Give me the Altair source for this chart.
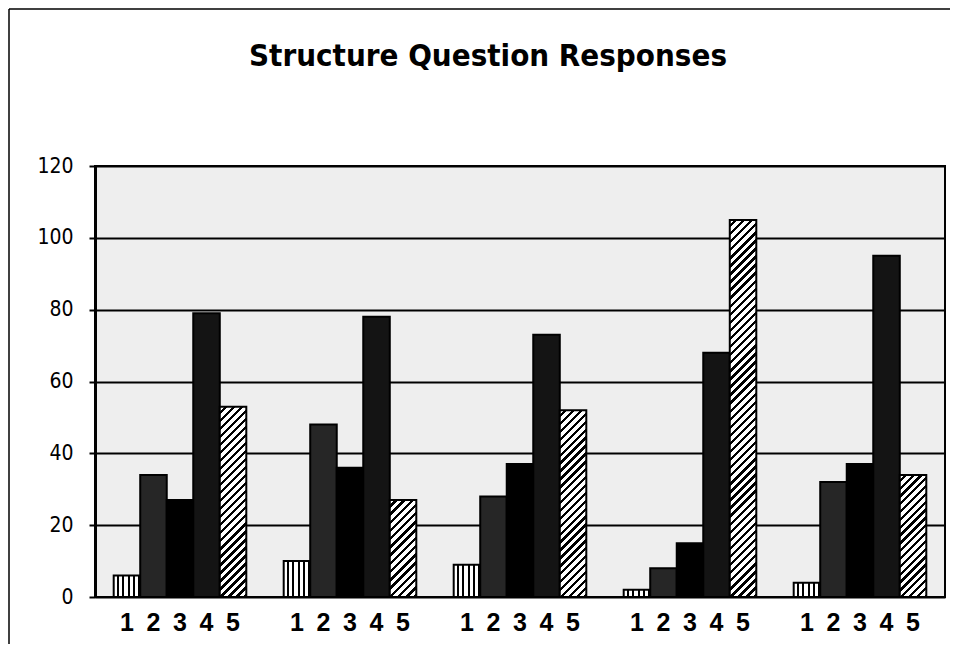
import altair as alt

# ---- data ----
title_text = "Structure Question Responses"
groups = ["Q1", "Q2", "Q3", "Q4", "Q5"]
responses = ["1", "2", "3", "4", "5"]
values = [
    [6, 34, 27, 79, 53],
    [10, 48, 36, 78, 27],
    [9, 28, 37, 73, 52],
    [2, 8, 15, 68, 105],
    [4, 32, 37, 95, 34],
]
y_ticks = [0, 20, 40, 60, 80, 100, 120]

# ---- layout / style ----
W, H, YMAX = 850, 431, 120
PAD_INNER, PAD_OUTER = 0.22, 0.11
step = W / (len(groups) - PAD_INNER + 2 * PAD_OUTER)
bar_w = step * (1 - PAD_INNER) / len(responses)
NARROW = "'Liberation Sans Narrow', 'Arial Narrow', 'DejaVu Sans Condensed', sans-serif"
SANS = "'Liberation Sans', Arial, sans-serif"


def vertical_stripes(n=5, black=0.38):
    stops = []
    for k in range(n):
        a, b, c = k / n, (k + 1 - black) / n, (k + 1) / n
        stops += [{"offset": a, "color": "white"}, {"offset": b, "color": "white"},
                  {"offset": b, "color": "black"}, {"offset": c, "color": "black"}]
    return {"gradient": "linear", "x1": 0, "y1": 0, "x2": 1, "y2": 0, "stops": stops}


def diagonal_hatch(value, period=8.0, black=0.42):
    h = max(value / YMAX * H, 1.0)
    w = bar_w
    r = h / w
    a = (1 + r) / (1 + r * r)
    b = r * a
    n = max(1, int(round((w + h) / period)))
    stops = []
    for k in range(n):
        s, m, e = k / n, (k + 1 - black) / n, (k + 1) / n
        stops += [{"offset": s, "color": "white"}, {"offset": m, "color": "white"},
                  {"offset": m, "color": "black"}, {"offset": e, "color": "black"}]
    return {"gradient": "linear", "x1": 0, "y1": 0, "x2": a, "y2": b, "stops": stops}


solid = {"2": "#262626", "3": "#000000", "4": "#141414"}

rows = []
for gi, g in enumerate(groups):
    for ri, r in enumerate(responses):
        v = values[gi][ri]
        if r == "1":
            fill = vertical_stripes()
        elif r == "5":
            fill = diagonal_hatch(v)
        else:
            fill = solid[r]
        rows.append({"group": g, "resp": r, "value": v, "fill": fill})

data = alt.Data(values=rows)

x_enc = alt.X("group:N", sort=groups, axis=None,
              scale=alt.Scale(paddingInner=PAD_INNER, paddingOuter=PAD_OUTER))
xo_enc = alt.XOffset("resp:N", sort=responses, scale=alt.Scale(paddingInner=0, paddingOuter=0))

bars = alt.Chart(data).mark_bar(stroke="black", strokeWidth=2, cornerRadius=0).encode(
    x=x_enc,
    xOffset=xo_enc,
    y=alt.Y("value:Q", scale=alt.Scale(domain=[0, YMAX], nice=False),
            axis=alt.Axis(values=y_ticks, title=None, grid=True, gridColor="black",
                          gridWidth=2, gridOpacity=1, domainColor="black", domainWidth=3,
                          tickColor="black", tickWidth=2, tickSize=6, labelPadding=16,
                          labelFont=NARROW, labelFontSize=21, labelColor="black")),
    fill=alt.Fill("fill:N", scale=None, legend=None),
)

labels = alt.Chart(data).mark_text(font=SANS, fontSize=25, fontWeight="bold",
                                     color="black", baseline="middle").encode(
    x=x_enc,
    xOffset=xo_enc,
    y=alt.value(H + 26),
    text="resp:N",
)

# outer chart frame (left and top edges; the others fall beyond the page)
frame_left = alt.Chart(alt.Data(values=[{"f": 1}])).mark_rule(
    color="black", strokeWidth=1.5).encode(
    x=alt.value(-86), y=alt.value(-157), y2=alt.value(H + 60),
)
frame_top = alt.Chart(alt.Data(values=[{"f": 1}])).mark_rule(
    color="black", strokeWidth=1.5).encode(
    x=alt.value(-86), x2=alt.value(W + 5), y=alt.value(-157),
)

chart = alt.layer(frame_left, frame_top, bars, labels).properties(
    width=W, height=H,
    title=alt.TitleParams(title_text, font=NARROW, fontSize=31, fontWeight="bold",
                          color="black", anchor="middle", frame="group",
                          offset=-65, dx=-32),
    autosize=alt.AutoSizeParams(type="none"),
    padding={"left": 87, "top": 158, "right": 5, "bottom": 47},
    background="white",
).configure_view(stroke="black", strokeWidth=2, fill="#eeeeee")

chart.save("out.html", embed_options={"renderer": "svg", "actions": False})
